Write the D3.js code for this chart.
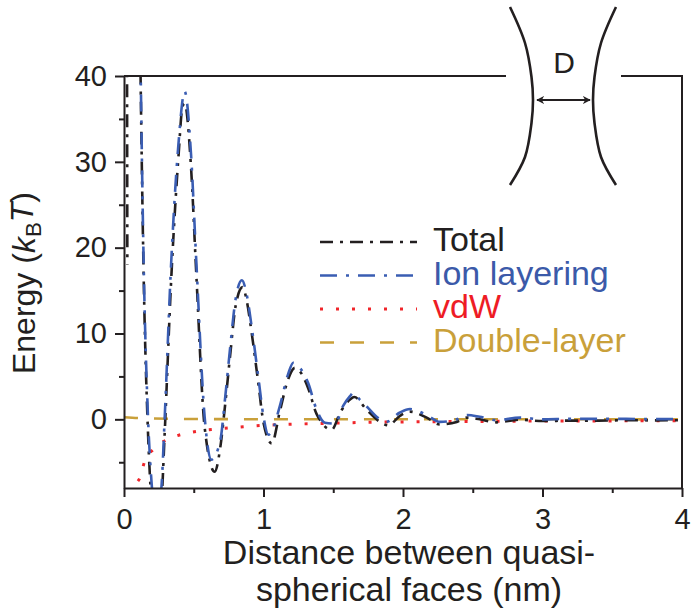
<!DOCTYPE html>
<meta charset="utf-8">
<style>
body { margin: 0; background: #fff; }
svg { font-family: 'Liberation Sans', Arial, sans-serif; }
.axis text { font-size: 29px; fill: #231f20; }
.axis path, .axis line { stroke: #231f20; stroke-width: 2px; }
.frame { stroke: #231f20; stroke-width: 2px; fill: none; }
.curve { fill: none; }
.title { font-size: 34px; fill: #231f20; }
.legend text { font-size: 34px; }
</style>
<div id="chart"></div>
<script src="https://cdn.jsdelivr.net/npm/d3@7"></script>
<script>
// tick values
var xMajorTicks = [0, 1, 2, 3, 4]
var xMinorTicks = [0.5, 1.5, 2.5, 3.5]
var yMajorTicks = [0, 10, 20, 30, 40]
var yMinorTicks = [-5, 5, 15, 25, 35]

var seriesNames = ['Total', 'Ion layering', 'vdW', 'Double-layer']

// [distance (nm), energy (kBT)]. null = gap in the line
var totalEnergy = [
  [0.02, 60], [0.024, 18], [0.03, null],
  [0.105, 58], [0.12, 38.5], [0.14, 17.5], [0.172, -1.5], [0.196, -9.5], [0.23, -15],
  [0.268, -10], [0.292, -1.5], [0.339, 16.5], [0.39, 30.5], [0.42, 36.5], [0.435, 36.8],
  [0.48, 29.5], [0.518, 17], [0.578, -0.9], [0.65, -6.1], [0.69, -3.3], [0.725, 1.7],
  [0.76, 7.3], [0.8, 13.2], [0.85, 15.4], [0.88, 13.8], [0.915, 10.1], [0.963, 4.2],
  [1.0, -0.4], [1.059, -2.8], [1.118, 1.0], [1.177, 4.7], [1.225, 6.0], [1.26, 5.6],
  [1.321, 3.6], [1.381, 0.6], [1.489, -1.2], [1.55, 0.8], [1.62, 2.3], [1.65, 2.6],
  [1.74, 1.1], [1.835, -0.3], [1.895, -0.7], [1.978, 0.4], [2.05, 0.9], [2.17, 0.2],
  [2.265, -0.6], [2.385, -0.3], [2.46, 0.2], [2.55, 0.0], [2.67, -0.35], [2.84, -0.05],
  [3.0, -0.2], [3.2, -0.15], [3.4, -0.15], [3.6, -0.1], [3.8, -0.12], [4.0, -0.1]
]

var ionLayering = [
  [0.105, 60], [0.12, 40], [0.14, 19], [0.172, 0.3], [0.196, -7], [0.23, -12],
  [0.268, -8], [0.292, 0.3], [0.339, 18.5], [0.39, 32], [0.435, 38.2], [0.48, 31],
  [0.518, 18.5], [0.578, 0.3], [0.626, -4.7], [0.69, -2.5], [0.725, 2.5], [0.76, 8.2],
  [0.8, 14], [0.845, 16.2], [0.88, 14.5], [0.915, 10.8], [0.963, 4.9], [1.0, 0.3],
  [1.035, -1.8], [1.06, -1.4], [1.118, 1.6], [1.177, 5.3], [1.214, 6.6], [1.25, 6.2],
  [1.321, 4.2], [1.381, 1.1], [1.44, -0.4], [1.513, -0.5], [1.572, 1.6], [1.62, 2.7],
  [1.644, 3.1], [1.69, 2.3], [1.74, 1.5], [1.835, 0], [1.88, -0.3], [1.978, 0.8],
  [2.05, 1.2], [2.17, 0.5], [2.265, -0.3], [2.385, 0], [2.46, 0.5], [2.55, 0.3],
  [2.67, -0.1], [2.84, 0.2], [3.0, 0], [3.2, 0.05], [3.4, 0.05], [3.6, 0.05],
  [3.8, 0.02], [4.0, 0.02]
]

var vdw = [
  [0.1, -7.2], [0.112, -6.9], [0.148, -4.9], [0.213, -3.45], [0.332, -2.2], [0.458, -1.6],
  [0.59, -1.25], [0.722, -1.05], [0.855, -0.86], [1.0, -0.7], [1.25, -0.55], [1.5, -0.45],
  [1.75, -0.35], [2.0, -0.3], [2.5, -0.25], [3.0, -0.2], [3.5, -0.18], [4.0, -0.15]
]

var doubleLayer = [
  [0, 0.25], [0.1, 0.15], [0.2, 0.1], [0.4, 0.05], [0.8, 0.02], [1.5, 0.01], [4.0, 0]
]

var seriesData = {
  'Total': totalEnergy,
  'Ion layering': ionLayering,
  'vdW': vdw,
  'Double-layer': doubleLayer
}

var styles = {
  'Total': { stroke: '#231f20', text: '#231f20', dash: '13,7,3,7', width: 2.6 },
  'Ion layering': { stroke: '#3a5db3', text: '#3b5aa9', dash: '17,9,3,9', width: 2.6 },
  'vdW': { stroke: '#f0262b', text: '#ee1c25', dash: '3,13', width: 3 },
  'Double-layer': { stroke: '#c9a03a', text: '#c9a03a', dash: '14,16', width: 2.6 }
}

var margin = { top: 76, left: 124, right: 10, bottom: 122 }
var width = 692 - margin.left - margin.right
var height = 610 - margin.top - margin.bottom

var svg = d3.select('#chart')
  .append('svg')
  .attr('width', 692)
  .attr('height', 610)

var g = svg.append('g')
  .attr('transform', 'translate(' + margin.left + ',' + margin.top + ')')

var xPositionScale = d3.scaleLinear().domain([0, 4]).range([0, width])
var yPositionScale = d3.scaleLinear().domain([-8, 40]).range([height, 0])

g.append('clipPath')
  .attr('id', 'plot-clip')
  .append('rect')
  .attr('width', width)
  .attr('height', height)

var line = d3.line()
  .defined(d => d[1] !== null)
  .x(d => xPositionScale(d[0]))
  .y(d => yPositionScale(d[1]))
  .curve(d3.curveMonotoneX)

// draw order: double-layer, vdW, total, ion layering on top
var drawOrder = ['Double-layer', 'vdW', 'Total', 'Ion layering']
g.append('g')
  .attr('clip-path', 'url(#plot-clip)')
  .selectAll('path')
  .data(drawOrder)
  .enter()
  .append('path')
  .attr('class', 'curve')
  .attr('d', d => line(seriesData[d]))
  .attr('stroke', d => styles[d].stroke)
  .attr('stroke-width', d => styles[d].width)
  .attr('stroke-dasharray', d => styles[d].dash)

// axes
var xAxis = d3.axisBottom(xPositionScale).tickValues(xMajorTicks).tickFormat(d3.format('d'))
  .tickSize(9).tickSizeOuter(0).tickPadding(11)
g.append('g')
  .attr('class', 'axis x-axis')
  .attr('transform', 'translate(0,' + height + ')')
  .call(xAxis)

var xMinor = d3.axisBottom(xPositionScale).tickValues(xMinorTicks).tickSize(5).tickFormat('')
g.append('g')
  .attr('class', 'axis x-minor')
  .attr('transform', 'translate(0,' + height + ')')
  .call(xMinor)
  .select('.domain').remove()

var yAxis = d3.axisLeft(yPositionScale).tickValues(yMajorTicks).tickSize(9).tickSizeOuter(0).tickPadding(8)
g.append('g')
  .attr('class', 'axis y-axis')
  .call(yAxis)

var yMinor = d3.axisLeft(yPositionScale).tickValues(yMinorTicks).tickSize(5).tickFormat('')
g.append('g')
  .attr('class', 'axis y-minor')
  .call(yMinor)
  .select('.domain').remove()

// frame: right side and top, top is broken by the inset sketch
var gapLeft = 382
var gapRight = 497
g.append('path')
  .attr('class', 'frame')
  .attr('d', 'M' + xPositionScale(0) + ',0H' + gapLeft + 'M' + gapRight + ',0H' + xPositionScale(4) + 'V' + height)

// inset sketch of two faces with separation D
var inset = svg.append('g').attr('transform', 'translate(563,100)')
var face = [[-53, -93], [-38, -57], [-31.5, -23], [-30, 0], [-31.5, 23], [-38, 57], [-53, 85]]
var faceLine = d3.line().curve(d3.curveCatmullRom)
inset.append('path')
  .attr('d', faceLine(face))
  .attr('fill', 'none').attr('stroke', '#231f20').attr('stroke-width', 2.6)
inset.append('path')
  .attr('d', faceLine(face.map(p => [-p[0], p[1]])))
  .attr('fill', 'none').attr('stroke', '#231f20').attr('stroke-width', 2.6)

var defs = svg.append('defs')
defs.append('marker')
  .attr('id', 'arrow')
  .attr('viewBox', '0 0 10 10')
  .attr('refX', 9).attr('refY', 5)
  .attr('markerWidth', 4).attr('markerHeight', 4)
  .attr('orient', 'auto-start-reverse')
  .append('path')
  .attr('d', 'M0,0L10,5L0,10L3,5Z')
  .attr('fill', '#231f20')

inset.append('line')
  .attr('x1', -26).attr('x2', 27)
  .attr('y1', 0).attr('y2', 0)
  .attr('stroke', '#231f20').attr('stroke-width', 2)
  .attr('marker-start', 'url(#arrow)')
  .attr('marker-end', 'url(#arrow)')

inset.append('text')
  .text('D')
  .attr('x', 1).attr('y', -27)
  .attr('text-anchor', 'middle')
  .attr('font-size', 30)
  .attr('fill', '#231f20')

// legend
var legend = g.append('g')
  .attr('class', 'legend')
  .attr('transform', 'translate(196,175)')

var rows = legend.selectAll('g')
  .data(seriesNames)
  .enter()
  .append('g')
  .attr('transform', (d, i) => 'translate(0,' + i * 33.5 + ')')

rows.append('line')
  .attr('x1', 0).attr('x2', 97)
  .attr('y1', -9).attr('y2', -9)
  .attr('stroke', d => styles[d].stroke)
  .attr('stroke-width', d => styles[d].width)
  .attr('stroke-dasharray', d => styles[d].dash)

rows.append('text')
  .text(d => d)
  .attr('x', 113)
  .attr('y', 0)
  .attr('fill', d => styles[d].text)

// axis titles
var xTitle = g.append('text')
  .attr('class', 'title')
  .attr('text-anchor', 'middle')
  .attr('transform', 'translate(' + (width / 2 + 6) + ',' + (height + 76) + ')')
xTitle.append('tspan').attr('x', 0).attr('y', 0).text('Distance between quasi-')
xTitle.append('tspan').attr('x', 0).attr('y', 37).text('spherical faces (nm)')

var yTitle = svg.append('text')
  .attr('class', 'title')
  .attr('text-anchor', 'middle')
  .style('font-size', '32px')
  .attr('transform', 'translate(35,283) rotate(-90)')
yTitle.append('tspan').text('Energy (')
yTitle.append('tspan').attr('font-style', 'italic').text('k')
yTitle.append('tspan').attr('font-size', '70%').attr('dy', '0.25em').text('B')
yTitle.append('tspan').attr('font-style', 'italic').attr('dy', '-0.25em').text('T')
yTitle.append('tspan').text(')')
</script>
